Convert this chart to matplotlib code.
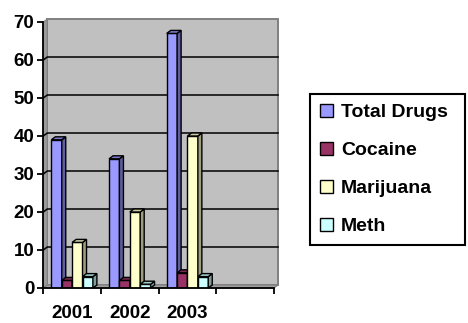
import matplotlib
matplotlib.use("Agg")
import matplotlib.pyplot as plt
import numpy as np
from matplotlib.colors import to_rgb
from matplotlib.patches import Patch, Polygon, Rectangle

# Drug cases per year
years = ["2001", "2002", "2003"]
series = ["Total Drugs", "Cocaine", "Marijuana", "Meth"]
total_drugs = [39, 34, 67]
cocaine = [2, 2, 4]
marijuana = [12, 20, 40]
meth = [3, 1, 3]
y_ticks = [0, 10, 20, 30, 40, 50, 60, 70]

COLORS = ["#9999FF", "#993366", "#FFFFCC", "#CCFFFF"]
N_SLOTS = 4          # category axis keeps one empty slot on the right
DEPTH_PX = (4, 3)    # 3-D depth offset of walls and columns, in pixels
BAR_W = 0.18
GROUP_START = 0.14


def shade(color, f):
    return tuple(np.clip(np.array(to_rgb(color)) * f, 0, 1))


plt.rcParams["font.family"] = ["Liberation Sans", "DejaVu Sans"]
plt.rcParams["font.weight"] = "bold"

fig = plt.figure(figsize=(4.68, 3.23), dpi=100)
fig.patch.set_facecolor("white")
ax = fig.add_axes([43.3 / 468, 35 / 323, 230.7 / 468, 266 / 323])
ax.set_xlim(0, N_SLOTS)
ax.set_ylim(0, y_ticks[-1])
ax.patch.set_visible(False)

# depth offset converted to data units
unit_px = ax.transData.transform((1, 1)) - ax.transData.transform((0, 0))
ddx = DEPTH_PX[0] / unit_px[0]
ddy = DEPTH_PX[1] / unit_px[1]
ymax = y_ticks[-1]

# back wall, side wall and floor
ax.add_patch(Rectangle((ddx, ddy), N_SLOTS, ymax, facecolor="#C0C0C0",
                       edgecolor="#808080", linewidth=1.4, zorder=0.5, clip_on=False))
ax.add_patch(Polygon([(0, 0), (0, ymax), (ddx, ymax + ddy), (ddx, ddy)],
                     facecolor="#9A9A9A", edgecolor="#808080", linewidth=0.8,
                     zorder=0.6, clip_on=False))
ax.add_patch(Polygon([(0, 0), (N_SLOTS, 0), (N_SLOTS + ddx, ddy), (ddx, ddy)],
                     facecolor="#A0A0A0", edgecolor="#808080", linewidth=0.8,
                     zorder=0.6, clip_on=False))

# gridlines on the back wall and across the side wall
for yv in y_ticks[1:-1]:
    ax.plot([0, ddx, N_SLOTS + ddx], [yv, yv + ddy, yv + ddy], color="black",
            linewidth=1.1, zorder=1, clip_on=False)

values = [total_drugs, cocaine, marijuana, meth]
for k, (name, vals, color) in enumerate(zip(series, values, COLORS)):
    xs = [i + GROUP_START + k * BAR_W for i in range(len(years))]
    z = 3 + k
    bars = ax.bar(xs, vals, width=BAR_W, align="edge", color=color,
                  edgecolor="black", linewidth=1.0, zorder=z, label=name)
    for rect in bars:
        x0 = rect.get_x()
        x1 = x0 + rect.get_width()
        h = rect.get_height()
        ax.add_patch(Polygon([(x1, 0), (x1, h), (x1 + ddx, h + ddy), (x1 + ddx, ddy)],
                             facecolor=shade(color, 0.62), edgecolor="black",
                             linewidth=1.0, zorder=z, clip_on=False))
        ax.add_patch(Polygon([(x0, h), (x1, h), (x1 + ddx, h + ddy), (x0 + ddx, h + ddy)],
                             facecolor=shade(color, 0.8), edgecolor="black",
                             linewidth=1.0, zorder=z, clip_on=False))

# axes
for side in ("top", "right"):
    ax.spines[side].set_visible(False)
for side in ("left", "bottom"):
    ax.spines[side].set_linewidth(1.3)
    ax.spines[side].set_zorder(10)

ax.set_yticks(y_ticks)
ax.tick_params(axis="y", length=4.5, width=1.3, pad=2, labelsize=13.5)
ax.set_xticks(range(N_SLOTS + 1))
ax.set_xticklabels([])
ax.tick_params(axis="x", which="major", length=4.5, width=1.3)
ax.set_xticks([i + 0.5 for i in range(len(years))], minor=True)
ax.set_xticklabels(years, minor=True)
ax.tick_params(axis="x", which="minor", length=0, pad=12, labelsize=13.5)

handles = [Patch(facecolor=c, edgecolor="black", linewidth=1.0) for c in COLORS]
leg = ax.legend(handles, series, loc="upper left",
                bbox_to_anchor=(310 / 468, (323 - 247) / 323, 155 / 468, 153 / 323),
                bbox_transform=fig.transFigure, mode="expand", borderaxespad=0,
                fontsize=14, handlelength=0.7, handleheight=0.7,
                handletextpad=0.4, labelspacing=1.05, borderpad=0.5,
                fancybox=False, framealpha=1, edgecolor="black")
leg.get_frame().set_linewidth(1.5)

fig.savefig("out.png", dpi=100)
